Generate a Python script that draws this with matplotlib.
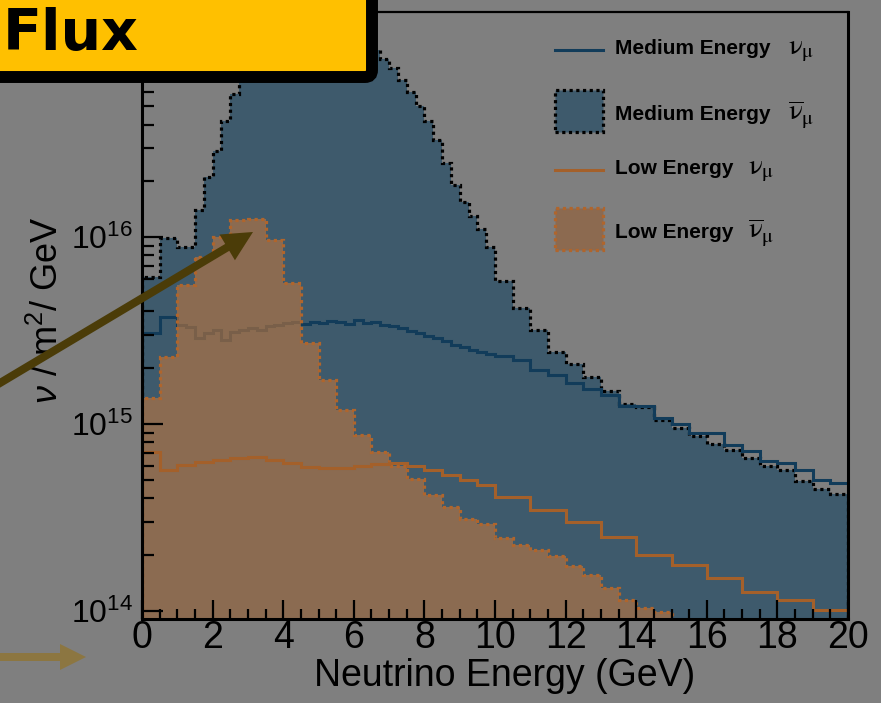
import numpy as np
import matplotlib
matplotlib.use("Agg")
import matplotlib.pyplot as plt
from matplotlib.patches import Rectangle, FancyBboxPatch, FancyArrow
from matplotlib.lines import Line2D
from matplotlib.ticker import MultipleLocator, LogLocator, FixedLocator, NullFormatter
from matplotlib.transforms import IdentityTransform

plt.rcParams['font.family'] = ['Liberation Sans', 'DejaVu Sans']
plt.rcParams['mathtext.fontset'] = 'custom'
plt.rcParams['mathtext.rm'] = 'Liberation Sans'
plt.rcParams['mathtext.it'] = 'Liberation Sans:italic'
plt.rcParams['mathtext.bf'] = 'Liberation Sans:bold'

UNIT = 1e15  # fluxes below are in units of 1e15 nu / m^2 / GeV

# Medium Energy nu_mu (line only)
me_nu_edges = np.concatenate([[0.0, 0.5], np.arange(1.0, 10.0, 0.25), np.arange(10.0, 20.01, 0.5)])
me_nu = [3.07, 3.73,
         3.38, 3.30, 2.88, 3.07, 3.18, 2.81, 3.10, 3.18, 3.26, 3.18,
         3.34, 3.38, 3.47, 3.51, 3.43, 3.51, 3.47, 3.56, 3.51, 3.43,
         3.60, 3.47, 3.51, 3.38, 3.34, 3.26, 3.14, 3.07, 2.96, 2.88,
         2.78, 2.65, 2.58, 2.49, 2.43, 2.37,
         2.31, 2.20, 1.94, 1.83, 1.66, 1.54, 1.43, 1.25, 1.25, 1.08,
         1.00, 0.895, 0.895, 0.772, 0.718, 0.635, 0.619, 0.567, 0.502, 0.483]

# Medium Energy anti-nu_mu (filled)
me_bar_edges = np.concatenate([[0.0, 0.5, 1.0], np.arange(1.5, 10.0, 0.25), np.arange(10.0, 20.01, 0.5)])
me_bar = [6.1, 9.9, 8.8,
          14, 21, 29, 42, 58, 72, 86, 100, 112, 122,
          130, 136, 140, 142, 142, 138, 132, 125, 116, 107,
          100, 90, 80, 69, 60, 50, 42, 33, 25, 19,
          15.5, 13, 11, 8.8,
          5.82, 4.17, 3.18, 2.43, 2.09, 1.78, 1.50, 1.28, 1.23, 1.05,
          0.95, 0.86, 0.78, 0.727, 0.658, 0.596, 0.567, 0.496, 0.449, 0.423]

# Low Energy nu_mu (line only)
le_nu_edges = np.concatenate([np.arange(0.0, 10.01, 0.5), np.arange(11.0, 20.01, 1.0)])
le_nu = [0.708, 0.568, 0.604, 0.626, 0.641, 0.658, 0.666, 0.641, 0.619, 0.589,
         0.582, 0.582, 0.596, 0.612, 0.619, 0.596, 0.568, 0.534, 0.502, 0.472,
         0.407, 0.347, 0.299, 0.249, 0.199, 0.176, 0.150, 0.126, 0.115, 0.101]

# Low Energy anti-nu_mu (filled)
le_bar_edges = np.arange(0.0, 20.01, 0.5)
le_bar = [1.38, 2.28, 5.53, 7.8, 10.0, 12.3, 12.5, 9.6, 5.7, 2.71,
          1.72, 1.19, 0.87, 0.71, 0.60, 0.51, 0.417, 0.36, 0.31, 0.292,
          0.245, 0.225, 0.212, 0.197, 0.174, 0.156, 0.133, 0.115, 0.104, 0.099,
          0, 0, 0, 0, 0, 0, 0, 0, 0, 0]

x_ticks = [0, 2, 4, 6, 8, 10, 12, 14, 16, 18, 20]
y_ticks = [1e14, 1e15, 1e16]

BG = '#7f7f7f'
BLUE_FILL = '#3e5a6c'
BLUE_LINE = '#123c5a'
ORANGE_FILL = '#bf783f'
ORANGE_EDGE = '#b0652c'
ORANGE_LINE = '#a4602a'
ORANGE_KEY = '#8c6a50'
YELLOW = '#ffc000'
BASE = 1e13

W, H = 881, 703
fig = plt.figure(figsize=(W / 100, H / 100), dpi=100, facecolor=BG)
ax = fig.add_axes([142 / W, (H - 619) / H, 706 / W, 607 / H])
ax.set_facecolor(BG)
ax.set_yscale('log')

s = lambda v: np.asarray(v, dtype=float) * UNIT

# histograms
ax.stairs(s(me_bar), me_bar_edges, baseline=BASE, fill=True, color=BLUE_FILL, lw=0, zorder=1)
ax.stairs(s(me_bar), me_bar_edges, baseline=BASE, color='black', lw=2.3,
          ls=(0, (1.0, 1.1)), zorder=1.5)
ax.stairs(s(me_nu), me_nu_edges, baseline=BASE, color=BLUE_LINE, lw=2.2, zorder=2)
ax.stairs(s(le_bar), le_bar_edges, baseline=BASE, fill=True, color=ORANGE_FILL,
          alpha=0.6, lw=0, zorder=3)
ax.stairs(s(le_bar), le_bar_edges, baseline=BASE, color=ORANGE_EDGE, lw=2.3,
          ls=(0, (1.0, 1.1)), zorder=3.5)
ax.stairs(s(le_nu), le_nu_edges, baseline=BASE, color=ORANGE_LINE, lw=2.2, zorder=4)

ax.set_xlim(0, 20)
ax.set_ylim(9.06e13, 1.6e17)

ax.set_xticks(x_ticks)
ax.xaxis.set_minor_locator(MultipleLocator(0.5))
ax.yaxis.set_major_locator(FixedLocator(y_ticks))
ax.yaxis.set_minor_locator(LogLocator(base=10, subs=np.arange(2, 10)))
ax.yaxis.set_minor_formatter(NullFormatter())

ax.tick_params(axis='x', which='major', direction='in', length=14, width=1.6,
               labelsize=27, pad=1)
ax.tick_params(axis='x', which='minor', direction='in', length=7, width=1.6)
ax.tick_params(axis='y', which='major', direction='in', length=15, width=1.6,
               labelsize=23, pad=6.5)
ax.tick_params(axis='y', which='minor', direction='in', length=8.5, width=1.6)
ax.xaxis.set_zorder(5)
ax.yaxis.set_zorder(5)
for sp in ax.spines.values():
    sp.set_linewidth(2.2)
    sp.set_zorder(5)
ax.spines['top'].set_linewidth(1.6)

ax.set_xlabel('Neutrino Energy (GeV)', fontsize=27)
ax.xaxis.set_label_coords(0.514, -0.064)
ax.set_ylabel(r'$\nu$ / m$^{2}$/ GeV', fontsize=26)
ax.yaxis.set_label_coords(-0.108, 0.509)

# legend, drawn by hand in figure pixels
def fxy(x, y):
    return x / W, 1 - y / H

key_rows = [
    ('line', BLUE_LINE, None, 'Medium Energy', r'$\mathrm{\nu}_{\mathrm{\mu}}$', 50, 54, 788),
    ('box', BLUE_FILL, 'black', 'Medium Energy', r'$\overline{\mathrm{\nu}}_{\mathrm{\mu}}$', 111, 120, 788),
    ('line', ORANGE_LINE, None, 'Low Energy', r'$\mathrm{\nu}_{\mathrm{\mu}}$', 170, 174, 748),
    ('box', ORANGE_KEY, ORANGE_EDGE, 'Low Energy', r'$\overline{\mathrm{\nu}}_{\mathrm{\mu}}$', 229, 238, 748),
]
for kind, col, edge, label, sym, yc, yb, xs in key_rows:
    if kind == 'line':
        x0, y0 = fxy(555, yc)
        x1, _ = fxy(603, yc)
        fig.add_artist(Line2D([x0, x1], [y0, y0], transform=fig.transFigure,
                              color=col, lw=2.2))
    else:
        x0, y0 = fxy(555, yc + 21)
        fig.add_artist(Rectangle((x0, y0), 48 / W, 42 / H, transform=fig.transFigure,
                                 facecolor=col, edgecolor=edge, lw=2.3,
                                 ls=(0, (1.0, 1.1))))
    tx, ty = fxy(615, yb)
    fig.text(tx, ty, label, fontsize=15, fontweight='bold', va='baseline')
    sx, _ = fxy(xs, yb)
    fig.text(sx, ty, sym, fontsize=21, va='baseline', math_fontfamily='stix')

# title box
fig.add_artist(FancyBboxPatch((-30, H - 77), 402, 120,
                              boxstyle='round,pad=0,rounding_size=7',
                              transform=IdentityTransform(), facecolor=YELLOW,
                              edgecolor='black', lw=8.6, zorder=10))
fig.text(3 / W, 1 - 50 / H, 'Flux', fontsize=41, fontweight='bold',
         family='DejaVu Sans', va='baseline', zorder=11)

# arrows
fig.add_artist(FancyArrow(-5, H - 386, 258, 154, width=8, head_width=30,
                          head_length=30, length_includes_head=True,
                          transform=IdentityTransform(), color='#4b3c08', lw=0, zorder=12))
fig.add_artist(FancyArrow(-5, H - 657, 91, 0, width=8, head_width=26,
                          head_length=26, length_includes_head=True,
                          transform=IdentityTransform(), color='#8c7641', lw=0, zorder=12))

fig.savefig('out.png', dpi=100, facecolor=BG)
